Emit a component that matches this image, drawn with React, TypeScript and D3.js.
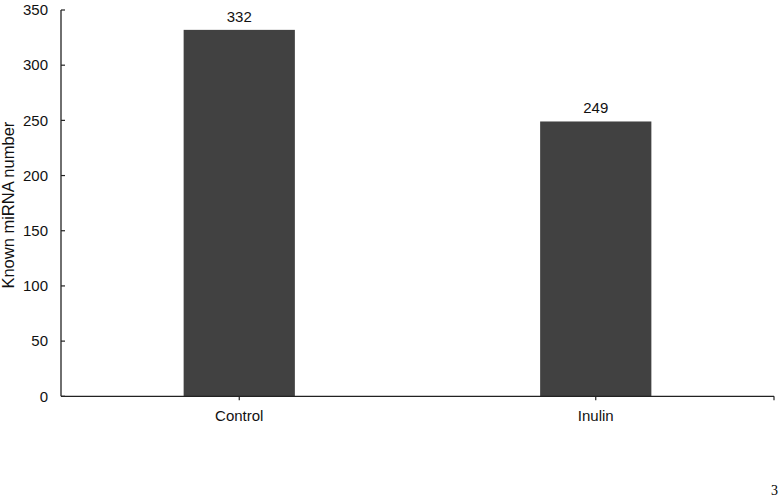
import * as d3 from 'd3'

const WIDTH = 780
const HEIGHT = 499
const MARGIN = { top: 10, right: 6, bottom: 102.7, left: 61 }

const categories = ['Control', 'Inulin']
const values = [332, 249]
const yTicks = [0, 50, 100, 150, 200, 250, 300, 350]

const FONT = '"Liberation Sans", Arial, sans-serif'
const BAR = '#414141'

function App() {
  const innerWidth = WIDTH - MARGIN.left - MARGIN.right
  const innerHeight = HEIGHT - MARGIN.top - MARGIN.bottom

  const x = d3.scaleBand().domain(categories).range([0, innerWidth]).paddingInner(0).paddingOuter(0)
  const y = d3.scaleLinear().domain([0, 350]).range([innerHeight, 0])
  const barWidth = x.bandwidth() * 0.312

  return (
    <svg
      width={WIDTH}
      height={HEIGHT}
      style={{ position: 'absolute', left: 0, top: 0, background: '#fff' }}
    >
      <g transform={`translate(${MARGIN.left},${MARGIN.top})`}>
        {categories.map((c, i) => {
          const cx = (x(c) ?? 0) + x.bandwidth() / 2
          return (
            <g key={c}>
              <rect
                x={cx - barWidth / 2}
                y={y(values[i])}
                width={barWidth}
                height={innerHeight - y(values[i])}
                fill={BAR}
              />
              <text
                x={cx}
                y={y(values[i]) - 8}
                textAnchor="middle"
                fontFamily={FONT}
                fontSize={15}
                fill="#111"
              >
                {values[i]}
              </text>
              <line x1={cx} x2={cx} y1={innerHeight} y2={innerHeight + 4} stroke="#222" strokeWidth={1.2} />
              <text
                x={cx}
                y={innerHeight + 25}
                textAnchor="middle"
                fontFamily={FONT}
                fontSize={15}
                fill="#111"
              >
                {c}
              </text>
            </g>
          )
        })}
        <line x1={innerWidth} x2={innerWidth} y1={innerHeight} y2={innerHeight + 4} stroke="#222" strokeWidth={1.2} />

        {yTicks.map((t) => (
          <g key={t} transform={`translate(0,${y(t)})`}>
            <line x1={0} x2={4} stroke="#222" strokeWidth={1.2} />
            <text
              x={-13}
              dy="0.35em"
              textAnchor="end"
              fontFamily={FONT}
              fontSize={15}
              fill="#111"
            >
              {t}
            </text>
          </g>
        ))}

        <line x1={0} x2={0} y1={0} y2={innerHeight} stroke="#222" strokeWidth={1.3} />
        <line x1={0} x2={innerWidth} y1={innerHeight} y2={innerHeight} stroke="#222" strokeWidth={1.3} />

        <text
          transform={`translate(${-MARGIN.left + 14},${innerHeight / 2 + 2}) rotate(-90)`}
          textAnchor="middle"
          fontFamily={FONT}
          fontSize={16.5}
          fill="#111"
        >
          Known miRNA number
        </text>
      </g>
      <text
        x={WIDTH - 2}
        y={HEIGHT - 4}
        textAnchor="end"
        fontFamily='"Liberation Serif", "Times New Roman", serif'
        fontSize={14}
        fill="#000"
      >
        3
      </text>
    </svg>
  )
}

export default App
